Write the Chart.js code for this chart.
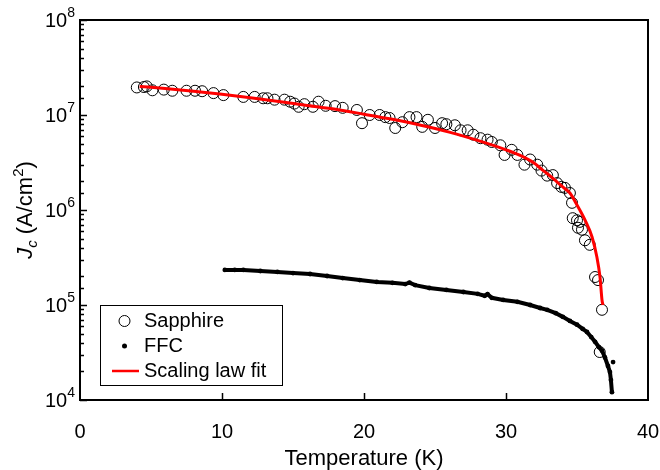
<!DOCTYPE html>
<html>
<head>
<meta charset="utf-8">
<script src="https://cdn.jsdelivr.net/npm/chart.js@4.4.1/dist/chart.umd.min.js"></script>
<style>
  body { margin: 0; background: #fff; }
  canvas { display: block; }
</style>
</head>
<body>
<canvas id="jc-chart" width="660" height="470"></canvas>
<script>
// Sapphire (open circles)
const sapphireT = [4.0, 4.5, 4.7, 5.1, 5.9, 6.5, 7.5, 8.1, 8.6, 9.4, 10.1, 11.5, 12.3, 12.9, 13.2, 13.7, 14.4, 14.8, 15.1, 15.4,
    15.8, 16.4, 16.8, 17.3, 17.96, 18.5, 19.5, 19.86, 20.4, 21.1, 21.5, 21.8, 22.2, 22.7, 23.2, 23.7, 24.1, 24.5, 25.0, 25.5,
    25.8, 26.4, 26.8, 27.3, 27.7, 28.2, 28.7, 29.0, 29.6, 29.9, 30.4, 30.8, 31.3, 31.7, 32.2, 32.5, 32.9, 33.3, 33.6, 33.9,
    34.15, 34.5, 34.65, 34.7, 35.0, 35.07, 35.2, 35.35, 35.56, 35.9, 36.27, 36.48, 36.6, 36.76]
const sapphireJc = [1.95e7, 1.97e7, 2.0e7, 1.82e7, 1.85e7, 1.8e7, 1.8e7, 1.8e7, 1.78e7, 1.7e7, 1.62e7, 1.55e7, 1.55e7, 1.5e7, 1.5e7, 1.45e7, 1.45e7, 1.38e7, 1.32e7, 1.22e7,
    1.3e7, 1.22e7, 1.38e7, 1.25e7, 1.24e7, 1.19e7, 1.13e7, 8.2e6, 1.0e7, 1.0e7, 9.5e6, 9.3e6, 7.3e6, 8.4e6, 9.5e6, 9.5e6, 7.5e6, 8.9e6, 7.3e6, 8.2e6,
    8.0e6, 7.8e6, 6.9e6, 6.9e6, 6.2e6, 5.7e6, 5.5e6, 5.2e6, 4.8e6, 3.8e6, 4.3e6, 3.8e6, 3.0e6, 3.4e6, 3.0e6, 2.6e6, 2.3e6, 2.33e6, 1.92e6, 1.75e6,
    1.71e6, 1.51e6, 1.19e6, 8.2e5, 7.8e5, 6.5e5, 7.5e5, 6.2e5, 4.8e5, 4.3e5, 1.97e5, 1.83e5, 3.2e4, 8.9e4]

// FFC (small filled dots)
const ffcT = [10.2, 10.9, 11.5, 12.7, 13.9, 15.0, 16.2, 17.4, 18.5, 19.7, 20.9, 22.0, 22.9, 23.2, 23.6, 24.6, 25.8, 27.0, 28.0, 28.5,
    28.7, 29.0, 29.8, 30.8, 31.7, 32.4, 32.9, 33.5, 34.0, 34.5, 35.0, 35.4, 35.7, 36.0, 36.27, 36.55, 36.76, 36.97, 37.18, 37.32,
    37.39, 37.46, 37.54]
const ffcJc = [2.34e5, 2.34e5, 2.34e5, 2.28e5, 2.23e5, 2.17e5, 2.12e5, 2.02e5, 1.92e5, 1.83e5, 1.75e5, 1.71e5, 1.66e5, 1.72e5, 1.62e5, 1.51e5, 1.44e5, 1.37e5, 1.31e5, 1.25e5,
    1.3e5, 1.19e5, 1.13e5, 1.08e5, 1.0e5, 9.3e4, 8.9e4, 8.2e4, 7.5e4, 6.8e4, 6.2e4, 5.6e4, 5.2e4, 4.6e4, 4.1e4, 3.6e4, 3.3e4, 2.8e4, 2.28e4, 1.97e4,
    1.62e4, 1.21e4, 2.51e4]

// Scaling law fit (red line)
const fitT = [4.2, 6, 8, 10, 12, 14, 16, 18, 20, 22, 24, 26, 28, 30, 31, 32, 32.4, 33.0, 33.6, 34.1, 34.5, 35.07, 35.56, 36.06, 36.4,
    36.62, 36.76, 36.83]
const fitJc = [2.0e7, 1.9e7, 1.78e7, 1.65e7, 1.52e7, 1.39e7, 1.26e7, 1.15e7, 1.02e7, 9.0e6, 7.8e6, 6.6e6, 5.4e6, 4.3e6, 3.75e6, 3.1e6, 2.77e6, 2.35e6, 1.97e6, 1.7e6, 1.51e6, 1.08e6, 7.85e5, 5.2e5, 3.2e5,
    1.97e5, 1.13e5, 1.0e5]

const xTicks = [0, 10, 20, 30, 40]
const yDecades = [4, 5, 6, 7, 8]
const legendLabels = ['Sapphire', 'FFC', 'Scaling law fit']

const FONT = '"Liberation Sans", Arial, sans-serif'

function toPoints(xs, ys) {
    return xs.map(function (x, i) { return { x: x, y: ys[i] } })
}

const framePlugin = {
    id: 'frame',
    afterDraw(chart) {
        const ctx = chart.ctx
        const area = chart.chartArea
        const x = chart.scales.x
        const y = chart.scales.y
        ctx.save()
        ctx.strokeStyle = '#000'
        ctx.fillStyle = '#000'

        // inward ticks
        ctx.lineWidth = 1.5
        ctx.beginPath()
        y.ticks.forEach(function (t) {
            const py = Math.round(y.getPixelForValue(t.value)) + 0.5
            const lg = Math.log10(t.value)
            const len = Math.abs(lg - Math.round(lg)) < 1e-6 ? 7 : 4
            ctx.moveTo(area.left, py)
            ctx.lineTo(area.left + len, py)
        })
        x.ticks.forEach(function (t) {
            if (t.value === x.min || t.value === x.max) return
            const px = Math.round(x.getPixelForValue(t.value)) + 0.5
            ctx.moveTo(px, area.bottom)
            ctx.lineTo(px, area.bottom - 7)
        })
        ctx.stroke()

        // plot box
        ctx.lineWidth = 2
        ctx.strokeRect(area.left, area.top, area.right - area.left, area.bottom - area.top)

        // y tick labels 10^n
        ctx.textBaseline = 'middle'
        yDecades.forEach(function (d) {
            const py = y.getPixelForValue(Math.pow(10, d))
            ctx.font = '14px ' + FONT
            const ew = ctx.measureText(String(d)).width
            ctx.textAlign = 'left'
            ctx.fillText(String(d), area.left - 5 - ew, py - 7)
            ctx.font = '20px ' + FONT
            ctx.textAlign = 'right'
            ctx.fillText('10', area.left - 5 - ew, py + 1)
        })

        // y title: Jc (A/cm2)
        const parts = [
            { t: 'J', f: 'italic 22px ' + FONT, dy: 0 },
            { t: 'c', f: 'italic 15px ' + FONT, dy: 5 },
            { t: ' (A/cm', f: '22px ' + FONT, dy: 0 },
            { t: '2', f: '15px ' + FONT, dy: -9 },
            { t: ')', f: '22px ' + FONT, dy: 0 }
        ]
        let total = 0
        parts.forEach(function (p) { ctx.font = p.f; p.w = ctx.measureText(p.t).width; total += p.w })
        ctx.translate(25, (area.top + area.bottom) / 2)
        ctx.rotate(-Math.PI / 2)
        ctx.textAlign = 'left'
        ctx.textBaseline = 'alphabetic'
        let cx = -total / 2
        parts.forEach(function (p) {
            ctx.font = p.f
            ctx.fillText(p.t, cx, 7 + p.dy)
            cx += p.w
        })
        ctx.restore()

        // legend box
        ctx.save()
        const lx = 100, ly = 305, lw = 182, lh = 80
        ctx.fillStyle = '#fff'
        ctx.fillRect(lx, ly, lw, lh)
        ctx.strokeStyle = '#000'
        ctx.lineWidth = 1
        ctx.strokeRect(lx + 0.5, ly + 0.5, lw, lh)
        const rows = [321, 346, 371]
        ctx.beginPath()
        ctx.arc(124.5, rows[0], 5.5, 0, Math.PI * 2)
        ctx.stroke()
        ctx.fillStyle = '#000'
        ctx.beginPath()
        ctx.arc(124.5, rows[1], 2.5, 0, Math.PI * 2)
        ctx.fill()
        ctx.strokeStyle = '#ff0000'
        ctx.lineWidth = 2.5
        ctx.beginPath()
        ctx.moveTo(112, rows[2])
        ctx.lineTo(139, rows[2])
        ctx.stroke()
        ctx.font = '20px ' + FONT
        ctx.textAlign = 'left'
        ctx.textBaseline = 'middle'
        legendLabels.forEach(function (label, i) {
            ctx.fillText(label, 144, rows[i])
        })
        ctx.restore()
    }
}

const lastFfc = ffcT.length - 1

new Chart(document.getElementById('jc-chart'), {
    type: 'scatter',
    data: {
        datasets: [
            {
                label: legendLabels[2],
                data: toPoints(fitT, fitJc),
                showLine: true,
                borderColor: '#ff0000',
                borderWidth: 3,
                pointRadius: 0,
                cubicInterpolationMode: 'monotone',
                order: 0
            },
            {
                label: legendLabels[0],
                data: toPoints(sapphireT, sapphireJc),
                pointStyle: 'circle',
                pointRadius: 5.5,
                borderWidth: 1,
                borderColor: '#000',
                backgroundColor: 'rgba(0,0,0,0)',
                order: 1
            },
            {
                label: legendLabels[1],
                data: toPoints(ffcT, ffcJc),
                showLine: true,
                borderColor: '#000',
                borderWidth: 4,
                pointRadius: 2.4,
                pointBorderWidth: 0,
                backgroundColor: '#000',
                segment: {
                    borderColor: function (c) { return c.p1DataIndex === lastFfc ? 'rgba(0,0,0,0)' : undefined }
                },
                order: 2
            }
        ]
    },
    options: {
        responsive: false,
        animation: false,
        layout: { padding: { left: 0, right: 12, top: 20, bottom: 0 } },
        plugins: {
            legend: { display: false },
            tooltip: { enabled: false }
        },
        scales: {
            x: {
                type: 'linear',
                min: 0,
                max: 40,
                afterBuildTicks: function (s) { s.ticks = xTicks.map(function (v) { return { value: v } }) },
                afterFit: function (s) {
                    s.height = 70
                    s.paddingLeft = 0
                    s.paddingRight = 12
                },
                grid: { display: false },
                border: { display: false },
                ticks: { color: '#000', font: { family: FONT, size: 20 }, padding: 12, maxRotation: 0 },
                title: {
                    display: true,
                    text: 'Temperature (K)',
                    color: '#000',
                    font: { family: FONT, size: 22 },
                    padding: { top: 0, bottom: -2 }
                }
            },
            y: {
                type: 'logarithmic',
                min: 1e4,
                max: 1e8,
                afterFit: function (s) { s.width = 80 },
                grid: { display: false },
                border: { display: false },
                ticks: { display: false, autoSkip: false }
            }
        }
    },
    plugins: [framePlugin]
});
</script>
</body>
</html>
